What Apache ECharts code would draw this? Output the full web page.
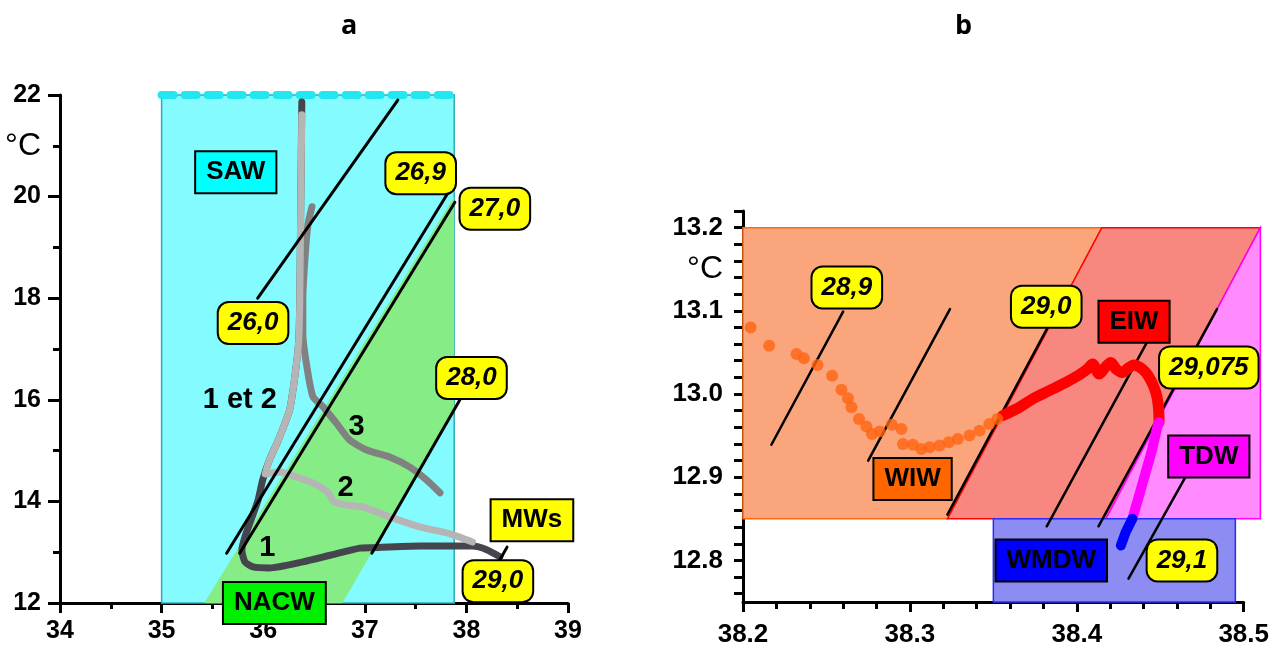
<!DOCTYPE html>
<html><head><meta charset="utf-8">
<script src="https://cdn.jsdelivr.net/npm/echarts@6/dist/echarts.min.js"></script>
<style>html,body{margin:0;padding:0;background:#fff}#c{width:1272px;height:648px}</style>
</head><body><div id="c"></div><script>
// ================= PANEL a data =================
const aYLabelValues = [12, 14, 16, 18, 20, 21, 22];
const aUnitValue = 21;
// profile 1 (dark)
const curve1 = [[36.38,21.86],[36.37,19.93],[36.36,17.96],[36.35,17.18],[36.32,16.59],[36.26,15.80],[36.15,15.21],[36.06,14.81],[35.995,14.42],[35.95,14.03],[35.89,13.69],[35.82,13.30],[35.79,13.04],[35.82,12.81],[35.90,12.71],[36.06,12.69],[36.39,12.81],[36.66,12.94],[36.95,13.08],[37.07,13.09],[37.54,13.12],[38.06,13.12],[38.20,13.05],[38.33,12.91]];
// profile 2 (light)
const curve2 = [[36.38,21.61],[36.37,19.93],[36.36,17.96],[36.35,17.18],[36.32,16.59],[36.26,15.80],[36.15,15.21],[36.06,14.81],[36.02,14.54],[36.16,14.58],[36.33,14.48],[36.49,14.36],[36.63,14.19],[36.70,13.99],[36.82,13.93],[36.98,13.89],[37.25,13.69],[37.54,13.50],[37.84,13.36],[38.06,13.20]];
// profile 3 (medium)
const curve3 = [[36.48,19.80],[36.44,19.44],[36.41,18.75],[36.39,17.96],[36.39,17.31],[36.43,16.65],[36.49,16.06],[36.59,15.86],[36.72,15.54],[36.85,15.21],[37.02,15.01],[37.25,14.87],[37.44,14.68],[37.61,14.42],[37.74,14.17]];
const sawRegion = [[35,12],[37.88,12],[37.88,22],[35,22]];
const nacwRegion = [[35.42,12],[37.88,20.0],[37.88,15.8],[36.78,12]];
const surfaceLine = [[35,22],[37.88,22]];
const aIsopycnals = [
  [[35.946,18.00],[37.325,21.90]],
  [[35.64,12.98],[37.818,20.07]],
  [[35.768,12.98],[37.887,19.89]],
  [[37.069,12.98],[37.936,16.0]],
  [[38.33,12.85],[38.40,13.10]]
];
const aBoxLabels = [['26,0',35.90,17.51],['26,9',37.55,20.46],['27,0',38.28,19.76],['28,0',38.05,16.43],['29,0',38.31,12.43]];
const aWaterLabels = [['SAW',35.73,20.48,'#00ffff'],['NACW',36.11,12.0,'#00ee00'],['MWs',38.645,13.63,'#ffff00']];
const aCurveLabels = [['1 et 2',35.77,16.0],['3',36.92,15.46],['2',36.81,14.26],['1',36.04,13.08]];

// ================= PANEL b data =================
const bYLabelValues = [12.8, 12.9, 13.0, 13.1, 13.15, 13.2];
const bUnitValue = 13.15;
const bOrangePts = [[38.2046,13.080],[38.2157,13.058],[38.2321,13.048],[38.2365,13.043],[38.2447,13.035],[38.2534,13.022],[38.2590,13.005],[38.2629,12.995],[38.2650,12.984],[38.2695,12.970],[38.2739,12.961],[38.2773,12.952],[38.2819,12.955],[38.2892,12.963],[38.2949,12.958],[38.2958,12.940],[38.3018,12.939],[38.3068,12.934],[38.3118,12.936],[38.3178,12.938],[38.3233,12.942],[38.3287,12.946],[38.3357,12.950],[38.3417,12.956],[38.3476,12.964],[38.3524,12.970]];
const bRedLine = [[38.3556,12.974],[38.3656,12.984],[38.3735,12.994],[38.3835,13.004],[38.3935,13.014],[38.4014,13.023],[38.4064,13.030],[38.4094,13.036],[38.4134,13.024],[38.4170,13.032],[38.4204,13.038],[38.4236,13.030],[38.4273,13.026],[38.4307,13.031],[38.4343,13.035],[38.4379,13.032],[38.4413,13.026],[38.4439,13.018],[38.4463,13.008],[38.4481,12.996],[38.4490,12.982],[38.4493,12.966]];
const bMagentaLine = [[38.4493,12.966],[38.4482,12.960],[38.4452,12.934],[38.4413,12.906],[38.4373,12.878],[38.4333,12.850]];
const bBlueLine = [[38.4333,12.850],[38.4293,12.834],[38.4264,12.818]];
const wiwRegion = [[38.2,13.2],[38.415,13.2],[38.3225,12.85],[38.2,12.85]];
const eiwRegion = [[38.415,13.2],[38.51,13.2],[38.4174,12.85],[38.3225,12.85]];
const tdwRegion = [[38.51,13.2],[38.51,12.85],[38.4174,12.85]];
const wmdwRegion = [[38.35,12.85],[38.495,12.85],[38.495,12.75],[38.35,12.75]];
const bIsopycnals = [
  [[38.217,12.939],[38.260,13.099]],
  [[38.275,12.920],[38.324,13.102]],
  [[38.3225,12.855],[38.382,13.078]],
  [[38.382,12.841],[38.442,13.062]],
  [[38.413,12.841],[38.484,13.102]],
  [[38.431,12.778],[38.467,12.907]]
];
const bBoxLabels = [['28,9',38.2622,13.128],['29,0',38.3817,13.105],['29,075',38.4791,13.032],['29,1',38.4630,12.800]];
const bWaterLabels = [['EIW',38.4343,13.087,'#ff0000'],['TDW',38.4791,12.925,'#ff00ff'],['WIW',38.3016,12.898,'#ff6600'],['WMDW',38.3847,12.800,'#0000ff']];

// ================= helpers =================
const FONT = 'Liberation Sans';
function region(gi, pts, fill, stroke, z) {
  return {type:'custom', xAxisIndex:gi, yAxisIndex:gi, clip:false, silent:true, z:z||1,
    data:[[pts[0][0], pts[0][1]]],
    renderItem:function(params, api){
      return {type:'polygon', shape:{points: pts.map(p => api.coord(p))},
        style:{fill:fill, stroke:stroke, lineWidth:1.5}};
    }};
}
function lineS(gi, data, color, width, z, extra) {
  return Object.assign({type:'line', xAxisIndex:gi, yAxisIndex:gi, data:data, showSymbol:false, symbol:'none',
    clip:false, silent:true, z:z||3, animation:false,
    lineStyle:{color:color, width:width, cap:'round', join:'round'}}, extra||{});
}
function labelS(gi, items, style) {
  return {type:'scatter', xAxisIndex:gi, yAxisIndex:gi, symbolSize:0, clip:false, silent:true, z:10,
    itemStyle:{color:'#000', opacity:1},
    data: items.map(it => ({name:it[0], value:[it[1], it[2]],
      label: it[3] ? {backgroundColor: it[3]} : {}})),
    label: Object.assign({show:true, position:[0,0], align:'center', verticalAlign:'middle',
      formatter:'{b}', color:'#000', opacity:1, textBorderWidth:0, fontFamily:FONT}, style)};
}
const boxStyle = {fontSize:26, fontWeight:'bold', fontStyle:'italic', backgroundColor:'#ffff00',
  borderColor:'#000', borderWidth:2, borderRadius:10, padding:[8,9,6,9]};
const waterStyle = {fontSize:26, fontWeight:'bold', borderColor:'#000', borderWidth:2, borderRadius:0, padding:[8,10,6,10]};
const textStyle = {fontSize:29, fontWeight:'bold'};

const axisLineStyle = {show:true, onZero:false, lineStyle:{color:'#000', width:3}};
const bYTicks = [];
for (let k = 0; k <= 23; k++) bYTicks.push(Math.round((12.76 + 0.02*k)*100)/100);

const series = [];
// panel a
series.push(region(0, sawRegion, '#84fbff', '#3ab', 1));
series.push(region(0, nacwRegion, '#86ec86', 'none', 1));
series.push(lineS(0, surfaceLine, '#22e6f0', 8, 2, {lineStyle:{color:'#22e6f0', width:8, type:[12,11], cap:'round'}}));
aIsopycnals.forEach(l => series.push(lineS(0, l, '#000', 3, 4)));
series.push(lineS(0, curve1, '#45454e', 7, 3, {smooth:0.2}));
series.push(lineS(0, curve3, '#818181', 7, 3, {smooth:0.2}));
series.push(lineS(0, curve2, '#b5b5b5', 7, 3, {smooth:0.2}));
series.push(labelS(0, aBoxLabels, boxStyle));
series.push(labelS(0, aWaterLabels, waterStyle));
series.push(labelS(0, aCurveLabels, textStyle));
// panel b
series.push(region(1, wiwRegion, '#fba57c', '#ff6a10', 1));
series.push(region(1, eiwRegion, '#f7877f', '#ff0000', 1));
series.push(region(1, tdwRegion, '#ff8bff', '#ff00ff', 1));
series.push(region(1, wmdwRegion, '#8c8cf2', '#2a2aff', 1));
bIsopycnals.forEach(l => series.push(lineS(1, l, '#000', 2.5, 4)));
series.push({type:'scatter', xAxisIndex:1, yAxisIndex:1, data:bOrangePts, symbolSize:12, silent:true, z:5,
  itemStyle:{color:'#ff6412'}});
series.push(lineS(1, bRedLine, '#ff0000', 11, 5, {smooth:0.3}));
series.push(lineS(1, bMagentaLine, '#ff00ff', 10, 5, {smooth:0.2}));
series.push(lineS(1, bBlueLine, '#0000ff', 10, 5));
series.push(labelS(1, bBoxLabels, boxStyle));
series.push(labelS(1, bWaterLabels, waterStyle));

const option = {
  animation:false,
  backgroundColor:'#fff',
  title:[
    {text:'a', left:336, top:8, textStyle:{fontSize:27, fontWeight:'bold', fontFamily:'Open Sans', color:'#000'}},
    {text:'b', left:950, top:8, textStyle:{fontSize:27, fontWeight:'bold', fontFamily:'Open Sans', color:'#000'}}
  ],
  grid:[
    {left:60, top:95, width:508, height:508},
    {left:743, top:211, width:502, height:393}
  ],
  xAxis:[
    {type:'value', gridIndex:0, min:34, max:39, interval:1,
      axisLine:axisLineStyle, splitLine:{show:false},
      axisTick:{show:true, length:10, lineStyle:{color:'#000', width:3}},
      minorTick:{show:true, splitNumber:2, length:6, lineStyle:{color:'#000', width:3}},
      axisLabel:{color:'#000', fontSize:25, fontWeight:'bold', fontFamily:FONT, margin:16}},
    {type:'value', gridIndex:1, min:38.2, max:38.5, interval:0.1,
      axisLine:axisLineStyle, splitLine:{show:false},
      axisTick:{show:true, length:10, lineStyle:{color:'#000', width:3}},
      minorTick:{show:true, splitNumber:5, length:7, lineStyle:{color:'#000', width:3}},
      axisLabel:{color:'#000', fontSize:26, fontWeight:'bold', fontFamily:FONT, margin:20,
        formatter: v => v.toFixed(1)}}
  ],
  yAxis:[
    {type:'value', gridIndex:0, min:12, max:22, interval:2,
      axisLine:axisLineStyle, splitLine:{show:false},
      axisTick:{show:true, length:12, lineStyle:{color:'#000', width:3}},
      minorTick:{show:true, splitNumber:2, length:7, lineStyle:{color:'#000', width:3}},
      axisLabel:{color:'#000', fontSize:25, fontWeight:'bold', fontFamily:FONT, margin:19,
        customValues: aYLabelValues,
        formatter: v => Math.abs(v - aUnitValue) < 1e-6 ? '{c|°C}' : String(v),
        rich:{c:{fontSize:32, fontWeight:'normal', fontFamily:FONT, color:'#000'}}}},
    {type:'value', gridIndex:1, min:12.75, max:13.22,
      axisLine:axisLineStyle, splitLine:{show:false},
      axisTick:{show:true, length:9, customValues: bYTicks, lineStyle:{color:'#000', width:3}},
      axisLabel:{color:'#000', fontSize:26, fontWeight:'bold', fontFamily:FONT, margin:20,
        customValues: bYLabelValues,
        formatter: v => Math.abs(v - bUnitValue) < 1e-6 ? '{c|°C}' : v.toFixed(1),
        rich:{c:{fontSize:32, fontWeight:'normal', fontFamily:FONT, color:'#000'}}}}
  ],
  series: series
};
const chart = echarts.init(document.getElementById('c'), null, {renderer:'canvas'});
chart.setOption(option);
</script></body></html>
